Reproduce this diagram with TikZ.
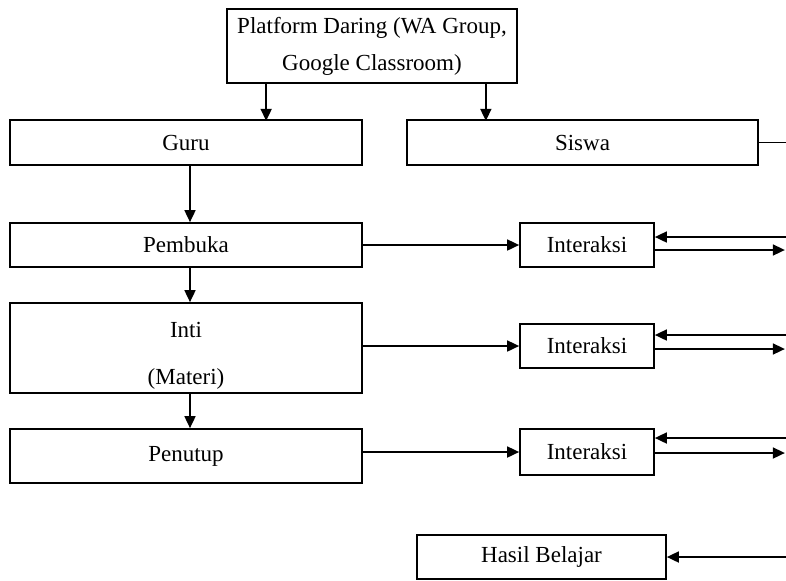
\documentclass[tikz,border=0pt]{standalone}
\usepackage{fontspec}
\setmainfont{Liberation Serif}
\usetikzlibrary{arrows.meta}

\begin{document}
\begin{tikzpicture}[x=0.5pt,y=-0.5pt,line width=0.85pt,
    box/.style={draw, inner sep=0pt, align=center, font=\fontsize{11.5}{18.5}\selectfont},
    arr/.style={-{Triangle[length=6pt,width=5.5pt]}},
    arrl/.style={{Triangle[length=6pt,width=5.5pt]}-}]
    \useasboundingbox (0,0) rectangle (786,580);

    \node[box, minimum width=145pt, minimum height=37pt] (platform) at (372,46) {Platform Daring (WA Group,\\ Google Classroom)};

    \node[box, minimum width=176pt, minimum height=22.5pt] (guru) at (186,142.5) {Guru};
    \node[box, minimum width=175.5pt, minimum height=22.5pt] (siswa) at (582.5,142.5) {Siswa};

    \node[box, minimum width=176pt, minimum height=22pt] (pembuka) at (186,245) {Pembuka};
    \node[box, minimum width=176pt, minimum height=45pt] (inti) at (186,348) {\rule{0pt}{15pt}Inti\\[5pt] (Materi)};
    \node[box, minimum width=176pt, minimum height=27pt] (penutup) at (186,456) {Penutup};

    \node[box, minimum width=67pt, minimum height=22pt] (interaksi1) at (587,245) {Interaksi};
    \node[box, minimum width=67pt, minimum height=22pt] (interaksi2) at (587,346) {Interaksi};
    \node[box, minimum width=67pt, minimum height=23pt] (interaksi3) at (587,452) {Interaksi};

    \node[box, minimum width=124.5pt, minimum height=22pt] (hasil) at (541.5,557) {Hasil Belajar};

    % dari platform
    \draw[arr] ([xshift=20pt]platform.south west) -- +(0,-18.5pt);
    \draw[arr] ([xshift=-16pt]platform.south east) -- +(0,-18.5pt);

    % alur guru
    \draw[arr] ([xshift=2pt]guru.south) -- ([xshift=2pt]pembuka.north);
    \draw[arr] ([xshift=2pt]pembuka.south) -- ([xshift=2pt]inti.north);
    \draw[arr] ([xshift=2pt]inti.south) -- ([xshift=2pt]penutup.north);

    \draw[arr] (pembuka) -- (interaksi1);
    \draw[arr] (inti.east |- interaksi2) -- (interaksi2);
    \draw[arr] (penutup.east |- interaksi3) -- (interaksi3);

    % ke sisi kanan
    \draw (siswa.east) -- +(14pt,0);
    \draw[arrl] ([yshift=4pt]interaksi1.east) -- +(66pt,0);
    \draw[arr] ([yshift=-2.5pt]interaksi1.east) -- +(65pt,0);
    \draw[arrl] ([yshift=5.5pt]interaksi2.east) -- +(66pt,0);
    \draw[arr] ([yshift=-1.5pt]interaksi2.east) -- +(65pt,0);
    \draw[arrl] ([yshift=7pt]interaksi3.east) -- +(66pt,0);
    \draw[arr] ([yshift=-0.5pt]interaksi3.east) -- +(65pt,0);

    \draw[arr] (hasil.east) ++(60pt,0) -- (hasil.east);
\end{tikzpicture}
\end{document}
